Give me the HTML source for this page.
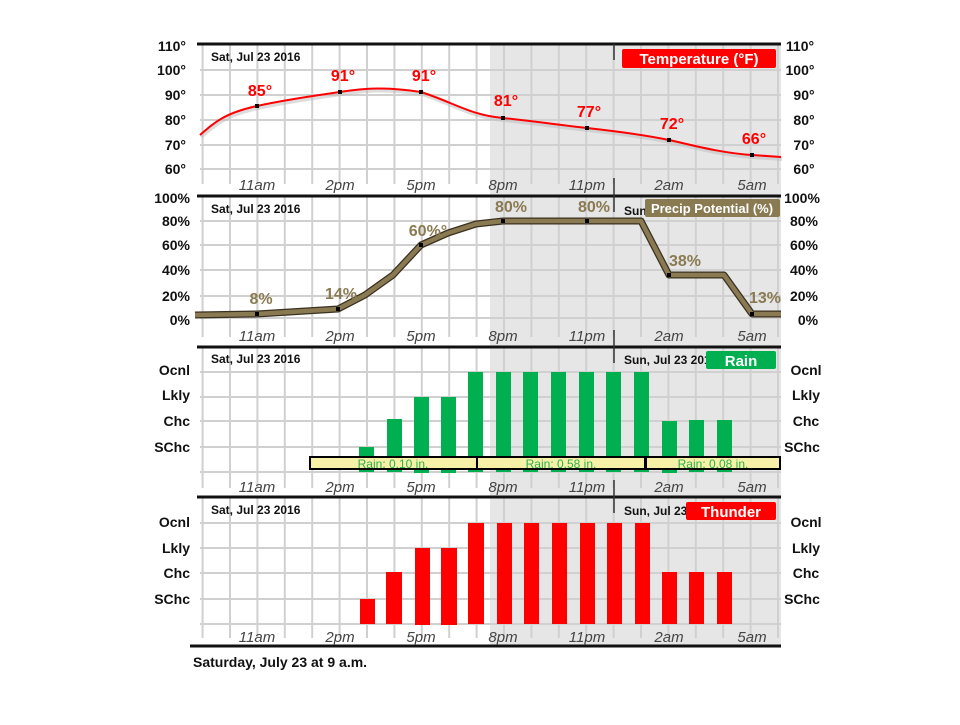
<!DOCTYPE html>
<html><head><meta charset="utf-8"><style>
html,body{margin:0;padding:0;background:#fff;}
svg text{font-family:"Liberation Sans",Arial,sans-serif;font-weight:bold;}
svg text.n{font-weight:normal;}
</style></head><body>
<svg width="960" height="720" viewBox="0 0 960 720" xmlns="http://www.w3.org/2000/svg">
<defs>
<g id="vg" stroke="#d0d0d0" stroke-width="2">
<line x1="202.6" x2="202.6" y1="0" y2="140"/><line x1="230" x2="230" y1="0" y2="140"/><line x1="257.4" x2="257.4" y1="0" y2="140"/><line x1="284.8" x2="284.8" y1="0" y2="140"/><line x1="312.2" x2="312.2" y1="0" y2="140"/><line x1="339.6" x2="339.6" y1="0" y2="140"/><line x1="367" x2="367" y1="0" y2="140"/><line x1="394.4" x2="394.4" y1="0" y2="140"/><line x1="421.8" x2="421.8" y1="0" y2="140"/><line x1="449.2" x2="449.2" y1="0" y2="140"/><line x1="476.6" x2="476.6" y1="0" y2="140"/><line x1="504" x2="504" y1="0" y2="140"/><line x1="531.4" x2="531.4" y1="0" y2="140"/><line x1="558.8" x2="558.8" y1="0" y2="140"/><line x1="586.2" x2="586.2" y1="0" y2="140"/><line x1="613.6" x2="613.6" y1="0" y2="140"/><line x1="641" x2="641" y1="0" y2="140"/><line x1="668.4" x2="668.4" y1="0" y2="140"/><line x1="695.8" x2="695.8" y1="0" y2="140"/><line x1="723.2" x2="723.2" y1="0" y2="140"/><line x1="750.6" x2="750.6" y1="0" y2="140"/><line x1="778" x2="778" y1="0" y2="140"/>
</g>
<g id="tl" font-size="15" font-style="italic" fill="#444" text-anchor="middle">
<text class="n" x="257" y="0">11am</text><text class="n" x="340" y="0">2pm</text><text class="n" x="421" y="0">5pm</text><text class="n" x="503" y="0">8pm</text><text class="n" x="587" y="0">11pm</text><text class="n" x="669" y="0">2am</text><text class="n" x="752" y="0">5am</text>
</g>
</defs>
<rect x="490" y="44" width="291" height="602" fill="#e6e6e6"/>
<g transform="translate(0,44)"><use href="#vg"/></g>
<g transform="translate(0,197)"><use href="#vg"/></g>
<g transform="translate(0,348)"><use href="#vg"/></g>
<g transform="translate(0,498)"><use href="#vg"/></g>
<g stroke="#d0d0d0" stroke-width="2">
<line x1="200" x2="781" y1="70" y2="70"/><line x1="200" x2="781" y1="95" y2="95"/><line x1="200" x2="781" y1="120" y2="120"/><line x1="200" x2="781" y1="145" y2="145"/><line x1="200" x2="781" y1="169" y2="169"/>
<line x1="200" x2="781" y1="221" y2="221"/><line x1="200" x2="781" y1="245" y2="245"/><line x1="200" x2="781" y1="270" y2="270"/><line x1="200" x2="781" y1="296" y2="296"/><line x1="200" x2="781" y1="318" y2="318"/>
<line x1="200" x2="781" y1="372" y2="372"/><line x1="200" x2="781" y1="397" y2="397"/><line x1="200" x2="781" y1="421" y2="421"/><line x1="200" x2="781" y1="447" y2="447"/><line x1="200" x2="781" y1="472" y2="472"/>
<line x1="200" x2="781" y1="523" y2="523"/><line x1="200" x2="781" y1="548" y2="548"/><line x1="200" x2="781" y1="573" y2="573"/><line x1="200" x2="781" y1="599" y2="599"/><line x1="200" x2="781" y1="624" y2="624"/>
</g>
<g stroke="#111" stroke-width="3">
<line x1="197" x2="781" y1="44" y2="44"/><line x1="197" x2="781" y1="196" y2="196"/><line x1="197" x2="781" y1="347" y2="347"/><line x1="197" x2="781" y1="497" y2="497"/><line x1="190" x2="781" y1="646" y2="646"/>
</g>
<g stroke="#333" stroke-width="1.5">
<line x1="614" x2="614" y1="44" y2="60"/><line x1="614" x2="614" y1="178" y2="196"/><line x1="614" x2="614" y1="196" y2="212"/><line x1="614" x2="614" y1="330" y2="347"/><line x1="614" x2="614" y1="347" y2="363"/><line x1="614" x2="614" y1="480" y2="497"/><line x1="614" x2="614" y1="497" y2="513"/>
</g>
<g transform="translate(0,190)"><use href="#tl"/></g>
<g transform="translate(0,341)"><use href="#tl"/></g>
<g transform="translate(0,492)"><use href="#tl"/></g>
<g transform="translate(0,642)"><use href="#tl"/></g>
<g font-size="12" fill="#111">
<text x="211" y="61">Sat, Jul 23 2016</text><text x="211" y="213">Sat, Jul 23 2016</text><text x="211" y="363">Sat, Jul 23 2016</text><text x="211" y="514">Sat, Jul 23 2016</text>
<text x="624" y="215">Sun, Jul 23 2016</text><text x="624" y="364">Sun, Jul 23 2016</text><text x="624" y="515">Sun, Jul 23 2016</text>
</g>
<path d="M200,135 C215,122 225,113 257,106 S320,95 340,92 S380,86 421,92 C455,103 470,115 503,118 C540,122 560,125 587,128 S650,136 669,140 S720,153 752,155 L781,157" fill="none" stroke="#bbb" stroke-width="4" opacity="0.5" transform="translate(1,2)"/>
<path d="M200,135 C215,122 225,113 257,106 S320,95 340,92 S380,86 421,92 C455,103 470,115 503,118 C540,122 560,125 587,128 S650,136 669,140 S720,153 752,155 L781,157" fill="none" stroke="#f00" stroke-width="2"/>
<g fill="#000"><rect x="255" y="104" width="4" height="4"/><rect x="338" y="90" width="4" height="4"/><rect x="419" y="90" width="4" height="4"/><rect x="501" y="116" width="4" height="4"/><rect x="585" y="126" width="4" height="4"/><rect x="667" y="138" width="4" height="4"/><rect x="750" y="153" width="4" height="4"/></g>
<g fill="#f00" font-size="16" text-anchor="middle">
<text x="260" y="96">85°</text><text x="343" y="81">91°</text><text x="424" y="81">91°</text><text x="506" y="106">81°</text><text x="589" y="117">77°</text><text x="672" y="129">72°</text><text x="754" y="144">66°</text>
</g>
<rect x="622" y="49" width="154" height="19" fill="#f00" rx="2"/>
<text x="699" y="64" fill="#fff" font-size="15" text-anchor="middle">Temperature (°F)</text>
<path d="M195,315 L257,314 L338,309 L365,295 L393,275 L421,245 L448,233 L476,224 L503,221 L641,221 L669,275 L724,275 L752,314 L781,314" fill="none" stroke="#3a3020" stroke-width="7" stroke-linejoin="round"/>
<path d="M195,315 L257,314 L338,309 L365,295 L393,275 L421,245 L448,233 L476,224 L503,221 L641,221 L669,275 L724,275 L752,314 L781,314" fill="none" stroke="#8a7a52" stroke-width="4.5" stroke-linejoin="round"/>
<g fill="#000"><rect x="255" y="312" width="4" height="4"/><rect x="336" y="307" width="4" height="4"/><rect x="419" y="243" width="4" height="4"/><rect x="501" y="219" width="4" height="4"/><rect x="585" y="219" width="4" height="4"/><rect x="667" y="273" width="4" height="4"/><rect x="750" y="312" width="4" height="4"/></g>
<g fill="#8a7a52" font-size="16" text-anchor="middle">
<text x="261" y="304">8%</text><text x="341" y="299">14%</text><text x="428" y="236">60%°</text><text x="511" y="212">80%</text><text x="594" y="212">80%</text><text x="685" y="266">38%</text><text x="765" y="303">13%</text>
</g>
<rect x="645" y="199" width="135" height="18" fill="#8a7a52" rx="2"/>
<text x="712" y="213" fill="#fff" font-size="13" text-anchor="middle">Precip Potential (%)</text>
<g fill="#00b050">
<rect x="359" y="447" width="15" height="25"/><rect x="387" y="419" width="15" height="53"/><rect x="414" y="397" width="15" height="76"/><rect x="441" y="397" width="15" height="76"/><rect x="468" y="372" width="15" height="100"/>
<rect x="496" y="372" width="15" height="100"/><rect x="523" y="372" width="15" height="100"/><rect x="551" y="372" width="15" height="100"/><rect x="579" y="372" width="15" height="100"/><rect x="606" y="372" width="15" height="100"/><rect x="634" y="372" width="15" height="100"/>
<rect x="662" y="421" width="15" height="52"/><rect x="689" y="420" width="15" height="52"/><rect x="717" y="420" width="15" height="52"/>
</g>
<g fill="#f7f1a8" stroke="#000" stroke-width="2">
<rect x="310" y="457" width="167" height="12"/><rect x="477" y="457" width="168" height="12"/><rect x="646" y="457" width="134" height="12"/>
</g>
<g fill="#2ab050" font-size="12" text-anchor="middle">
<text class="n" x="393" y="468">Rain: 0.10 in.</text><text class="n" x="561" y="468">Rain: 0.58 in.</text><text class="n" x="713" y="468">Rain: 0.08 in.</text>
</g>
<rect x="706" y="351" width="70" height="18" fill="#00b050" rx="2"/>
<text x="741" y="366" fill="#fff" font-size="15" text-anchor="middle">Rain</text>
<g fill="#f00">
<rect x="360" y="599" width="15" height="25"/><rect x="386" y="572" width="16" height="52"/><rect x="415" y="548" width="15" height="77"/><rect x="441" y="548" width="16" height="77"/><rect x="468" y="523" width="16" height="101"/>
<rect x="497" y="523" width="15" height="101"/><rect x="524" y="523" width="15" height="101"/><rect x="552" y="523" width="15" height="101"/><rect x="580" y="523" width="15" height="101"/><rect x="607" y="523" width="15" height="101"/><rect x="635" y="523" width="15" height="101"/>
<rect x="662" y="572" width="15" height="52"/><rect x="689" y="572" width="15" height="52"/><rect x="717" y="572" width="15" height="52"/>
</g>
<rect x="686" y="502" width="90" height="18" fill="#f00" rx="2"/>
<text x="731" y="517" fill="#fff" font-size="15" text-anchor="middle">Thunder</text>
<g font-size="14" fill="#111" text-anchor="end">
<text x="186" y="51">110°</text><text x="186" y="75">100°</text><text x="186" y="100">90°</text><text x="186" y="125">80°</text><text x="186" y="150">70°</text><text x="186" y="174">60°</text>
<text x="190" y="203">100%</text><text x="190" y="226">80%</text><text x="190" y="250">60%</text><text x="190" y="275">40%</text><text x="190" y="301">20%</text><text x="190" y="325">0%</text>
<text x="190" y="375">Ocnl</text><text x="190" y="400">Lkly</text><text x="190" y="426">Chc</text><text x="190" y="452">SChc</text>
<text x="190" y="527">Ocnl</text><text x="190" y="553">Lkly</text><text x="190" y="578">Chc</text><text x="190" y="604">SChc</text>
</g>
<g font-size="14" fill="#111" text-anchor="middle">
<text x="800" y="51">110°</text><text x="800" y="75">100°</text><text x="804" y="100">90°</text><text x="804" y="125">80°</text><text x="804" y="150">70°</text><text x="804" y="174">60°</text>
<text x="802" y="203">100%</text><text x="804" y="226">80%</text><text x="804" y="250">60%</text><text x="804" y="275">40%</text><text x="804" y="301">20%</text><text x="808" y="325">0%</text>
<text x="806" y="375">Ocnl</text><text x="806" y="400">Lkly</text><text x="806" y="426">Chc</text><text x="802" y="452">SChc</text>
<text x="806" y="527">Ocnl</text><text x="806" y="553">Lkly</text><text x="806" y="578">Chc</text><text x="802" y="604">SChc</text>
</g>
<text x="193" y="667" font-size="14" fill="#111">Saturday, July 23 at 9 a.m.</text>
</svg>
</body></html>
